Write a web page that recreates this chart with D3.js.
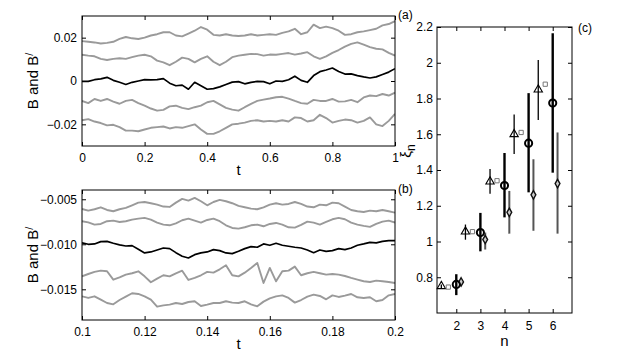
<!DOCTYPE html>
<html>
<head>
<meta charset="utf-8">
<script src="https://cdn.jsdelivr.net/npm/d3@7"></script>
<style>
body { margin: 0; background: #fff; }
svg { display: block; font-family: "Liberation Sans", Arial, sans-serif; }
</style>
</head>
<body>
<svg width="632" height="353"></svg>
<script>
//sample times of the two trace panels
var tA = [0,0.02,0.04,0.06,0.08,0.1,0.12,0.14,0.16,0.18,0.2,0.22,0.24,0.26,0.28,0.3,0.32,0.34,0.36,0.38,
    0.4,0.42,0.44,0.46,0.48,0.5,0.52,0.54,0.56,0.58,0.6,0.62,0.64,0.66,0.68,0.7,0.72,0.74,0.76,0.78,
    0.8,0.82,0.84,0.86,0.88,0.9,0.92,0.94,0.96,0.98,1];
var tB = [0.1,0.102,0.104,0.106,0.108,0.11,0.112,0.114,0.116,0.118,0.12,0.122,0.124,0.126,0.128,0.13,0.132,0.134,0.136,0.138,
    0.14,0.142,0.144,0.146,0.148,0.15,0.152,0.154,0.156,0.158,0.16,0.162,0.164,0.166,0.168,0.17,0.172,0.174,0.176,0.178,
    0.18,0.182,0.184,0.186,0.188,0.19,0.192,0.194,0.196,0.198,0.2];

//panel (a) traces, top to bottom
var aGray1 = [0.0184,0.0181,0.0178,0.0173,0.0176,0.0181,0.0194,0.0203,0.0197,0.0194,
    0.0200,0.0210,0.0216,0.0225,0.0225,0.0210,0.0206,0.0219,0.0232,0.0249,
    0.0237,0.0213,0.0210,0.0216,0.0210,0.0208,0.0210,0.0216,0.0210,0.0213,
    0.0216,0.0213,0.0222,0.0229,0.0241,0.0216,0.0225,0.0260,0.0244,0.0251,
    0.0244,0.0232,0.0213,0.0216,0.0225,0.0229,0.0235,0.0241,0.0257,0.0263,0.0276];
var aGray2 = [0.0121,0.0117,0.0114,0.0102,0.0097,0.0102,0.0105,0.0102,0.0110,0.0117,
    0.0121,0.0114,0.0094,0.0086,0.0073,0.0089,0.0108,0.0102,0.0086,0.0102,
    0.0114,0.0089,0.0073,0.0089,0.0110,0.0117,0.0121,0.0125,0.0124,0.0117,
    0.0122,0.0121,0.0125,0.0129,0.0122,0.0127,0.0133,0.0114,0.0102,0.0114,
    0.0130,0.0143,0.0159,0.0171,0.0178,0.0168,0.0156,0.0149,0.0146,0.0130,0.0117];
var aBlack = [-0.0002,-0.0002,0.0006,0.0010,0.0017,0.0003,-0.0006,-0.0016,-0.0006,0,
    0.0006,0.0005,0.0006,0.0011,-0.0010,-0.0022,-0.0019,-0.0038,-0.0006,-0.0022,
    -0.0038,-0.0035,-0.0027,-0.0016,-0.0005,-0.0003,-0.0013,-0.0006,-0.0002,-0.0003,
    -0.0013,0,-0.0002,0.0006,0.0022,0.0003,-0.0006,0.0025,0.0043,0.0051,
    0.0060,0.0044,0.0032,0.0033,0.0025,0.0019,0.0014,0.0019,0.0030,0.0041,0.0057];
var aGray4 = [-0.0092,-0.0102,-0.0083,-0.0092,-0.0083,-0.0095,-0.0105,-0.0092,-0.0087,-0.0102,
    -0.0114,-0.0127,-0.0137,-0.0133,-0.0117,-0.0114,-0.0124,-0.0130,-0.0121,-0.0114,
    -0.0098,-0.0092,-0.0108,-0.0124,-0.0132,-0.0137,-0.0121,-0.0106,-0.0092,-0.0086,
    -0.0081,-0.0075,-0.0073,-0.0081,-0.0092,-0.0102,-0.0105,-0.0087,-0.0092,-0.0092,
    -0.0083,-0.0095,-0.0094,-0.0087,-0.0098,-0.0076,-0.0067,-0.0070,-0.0060,-0.0067,-0.0054];
var aGray5 = [-0.0181,-0.0176,-0.0187,-0.0194,-0.0205,-0.0202,-0.0213,-0.0229,-0.0229,-0.0232,
    -0.0224,-0.0216,-0.0213,-0.0210,-0.0219,-0.0213,-0.0216,-0.0208,-0.0200,-0.0224,
    -0.0244,-0.0244,-0.0232,-0.0216,-0.0200,-0.0197,-0.0192,-0.0184,-0.0181,-0.0187,
    -0.0184,-0.0187,-0.0181,-0.0187,-0.0168,-0.0171,-0.0187,-0.0181,-0.0156,-0.0171,
    -0.0192,-0.0184,-0.0178,-0.0181,-0.0192,-0.0184,-0.0168,-0.0200,-0.0208,-0.0184,-0.0152];

//panel (b) traces, top to bottom
var bGray1 = [-0.00607,-0.00626,-0.00611,-0.00589,-0.00619,-0.00633,-0.00611,-0.00596,-0.00567,-0.00537,
    -0.00530,-0.00544,-0.00559,-0.00581,-0.00585,-0.00537,-0.00496,-0.00515,-0.00485,-0.00522,
    -0.00567,-0.00530,-0.00507,-0.00522,-0.00544,-0.00574,-0.00589,-0.00604,-0.00611,-0.00589,
    -0.00559,-0.00544,-0.00559,-0.00552,-0.00530,-0.00552,-0.00581,-0.00589,-0.00559,-0.00567,
    -0.00537,-0.00544,-0.00581,-0.00619,-0.00633,-0.00641,-0.00626,-0.00633,-0.00619,-0.00633,-0.00648];
var bGray2 = [-0.00744,-0.00756,-0.00781,-0.00774,-0.00744,-0.00737,-0.00752,-0.00744,-0.00726,-0.00715,
    -0.00707,-0.00726,-0.00759,-0.00781,-0.00789,-0.00767,-0.00733,-0.00715,-0.00737,-0.00759,
    -0.00730,-0.00715,-0.00744,-0.00789,-0.00819,-0.00826,-0.00811,-0.00789,-0.00781,-0.00800,
    -0.00774,-0.00763,-0.00781,-0.00811,-0.00815,-0.00785,-0.00748,-0.00759,-0.00781,-0.00752,
    -0.00722,-0.00707,-0.00722,-0.00759,-0.00781,-0.00796,-0.00807,-0.00774,-0.00748,-0.00737,-0.00759];
var bBlack = [-0.00985,-0.01000,-0.00996,-0.00970,-0.00967,-0.00989,-0.01007,-0.01019,-0.01015,-0.01056,
    -0.01096,-0.01085,-0.01063,-0.01041,-0.01048,-0.01093,-0.01133,-0.01152,-0.01115,-0.01096,
    -0.01085,-0.01059,-0.01070,-0.01096,-0.01104,-0.01078,-0.01048,-0.01026,-0.01033,-0.00996,
    -0.01011,-0.00989,-0.01011,-0.01022,-0.01033,-0.01041,-0.01063,-0.01093,-0.01063,-0.01078,
    -0.01070,-0.01048,-0.01059,-0.01041,-0.01011,-0.00996,-0.00978,-0.00985,-0.00967,-0.00959,-0.00959];
var bGray4 = [-0.01356,-0.01330,-0.01307,-0.01293,-0.01300,-0.01393,-0.01367,-0.01337,-0.01322,-0.01300,
    -0.01356,-0.01422,-0.01381,-0.01344,-0.01356,-0.01322,-0.01293,-0.01396,-0.01374,-0.01344,
    -0.01307,-0.01315,-0.01278,-0.01233,-0.01344,-0.01356,-0.01315,-0.01263,-0.01207,-0.01430,
    -0.01263,-0.01411,-0.01300,-0.01293,-0.01248,-0.01344,-0.01322,-0.01307,-0.01322,-0.01337,
    -0.01330,-0.01337,-0.01352,-0.01374,-0.01393,-0.01411,-0.01419,-0.01404,-0.01411,-0.01419,-0.01430];
var bGray5 = [-0.01578,-0.01596,-0.01578,-0.01615,-0.01652,-0.01667,-0.01619,-0.01581,-0.01544,-0.01552,
    -0.01578,-0.01615,-0.01693,-0.01678,-0.01670,-0.01652,-0.01663,-0.01641,-0.01633,-0.01685,
    -0.01670,-0.01652,-0.01652,-0.01633,-0.01648,-0.01652,-0.01633,-0.01667,-0.01689,-0.01637,
    -0.01600,-0.01578,-0.01567,-0.01596,-0.01648,-0.01619,-0.01581,-0.01559,-0.01574,-0.01611,
    -0.01567,-0.01585,-0.01570,-0.01552,-0.01589,-0.01596,-0.01589,-0.01633,-0.01619,-0.01567,-0.01552];

//panel (c): exponents with error bars
var triN = [1.38, 2.38, 3.4, 4.4, 5.4];
var triVal = [0.75, 1.055, 1.335, 1.60, 1.85];
var triLo = [0.74, 1.01, 1.267, 1.49, 1.68];
var triHi = [0.76, 1.095, 1.405, 1.71, 2.015];
var sqN = [1.67, 2.67, 3.69, 4.69, 5.69];
var sqVal = [0.745, 1.055, 1.34, 1.61, 1.88];
var circN = [2, 3, 4, 5, 6];
var circVal = [0.76, 1.05, 1.313, 1.55, 1.775];
var circLo = [0.70, 0.945, 1.135, 1.275, 1.385];
var circHi = [0.817, 1.16, 1.495, 1.83, 2.165];
var diaN = [2.2, 3.2, 4.2, 5.2, 6.2];
var diaVal = [0.774, 1.011, 1.163, 1.261, 1.324];
var diaLo = [0.758, 0.955, 1.044, 1.06, 1.044];
var diaHi = [0.79, 1.05, 1.283, 1.46, 1.61];

//ticks
var tickAx = [0, 0.2, 0.4, 0.6, 0.8, 1];
var tickAxLab = ["0", "0.2", "0.4", "0.6", "0.8", "1"];
var tickAy = [-0.02, 0, 0.02];
var tickAyLab = ["\u22120.02", "0", "0.02"];
var tickBx = [0.1, 0.12, 0.14, 0.16, 0.18, 0.2];
var tickBxLab = ["0.1", "0.12", "0.14", "0.16", "0.18", "0.2"];
var tickBy = [-0.015, -0.010, -0.005];
var tickByLab = ["\u22120.015", "\u22120.010", "\u22120.005"];
var tickCx = [2, 3, 4, 5, 6];
var tickCxLab = ["2", "3", "4", "5", "6"];
var tickCy = [0.8, 1, 1.2, 1.4, 1.6, 1.8, 2, 2.2];
var tickCyLab = ["0.8", "1", "1.2", "1.4", "1.6", "1.8", "2", "2.2"];

var svg = d3.select("svg");
var gray = "#9a9a9a";

//box with inward ticks on all four sides, MATLAB style
function frame(g, x, y, w, h, xt, xl, yt, yl, xPad, yPad) {
    var fx = function (d, i) { return xl[xt.indexOf(d)]; };
    var fy = function (d, i) { return yl[yt.indexOf(d)]; };
    g.append("g").attr("transform", "translate(0," + h + ")")
        .call(d3.axisBottom(x).tickValues(xt).tickFormat(fx).tickSizeInner(-4).tickSizeOuter(0).tickPadding(xPad));
    g.append("g")
        .call(d3.axisTop(x).tickValues(xt).tickFormat("").tickSizeInner(-4).tickSizeOuter(0));
    g.append("g")
        .call(d3.axisLeft(y).tickValues(yt).tickFormat(fy).tickSizeInner(-4).tickSizeOuter(0).tickPadding(yPad));
    g.append("g").attr("transform", "translate(" + w + ",0)")
        .call(d3.axisRight(y).tickValues(yt).tickFormat("").tickSizeInner(-4).tickSizeOuter(0));
    g.selectAll(".domain").remove();
    g.selectAll(".tick line").attr("stroke", "#000");
    g.selectAll(".tick text").style("font-size", "12px").attr("fill", "#000");
    g.append("rect").attr("width", w).attr("height", h)
        .attr("fill", "none").attr("stroke", "#000").attr("stroke-width", 1);
}

function tracePanel(id, left, top, right, bottom, t, xDom, yDom, series, xt, xl, yt, yl) {
    var w = right - left, h = bottom - top;
    var g = svg.append("g").attr("transform", "translate(" + left + "," + top + ")");
    var x = d3.scaleLinear().domain(xDom).range([0, w]);
    var y = d3.scaleLinear().domain(yDom).range([h, 0]);

    g.append("clipPath").attr("id", id).append("rect").attr("width", w).attr("height", h);

    var line = d3.line()
        .x(function (d, i) { return x(t[i]); })
        .y(function (d) { return y(d); });

    g.append("g").attr("clip-path", "url(#" + id + ")")
        .selectAll("path")
        .data(series)
        .enter()
        .append("path")
        .attr("d", function (d) { return line(d.v); })
        .attr("fill", "none")
        .attr("stroke", function (d) { return d.black ? "#000" : gray; })
        .attr("stroke-width", function (d) { return d.black ? 1.7 : 1.9; })
        .attr("stroke-linejoin", "round");

    frame(g, x, y, w, h, xt, xl, yt, yl, 7, 5);

    //axis labels
    g.append("text")
        .attr("x", w / 2).attr("y", h + 29)
        .style("text-anchor", "middle").style("font-size", "15px")
        .text("t");
    var yl2 = g.append("text")
        .attr("transform", "translate(-44," + (h / 2) + ") rotate(-90)")
        .style("text-anchor", "middle").style("font-size", "15px");
    yl2.append("tspan").text("B and B");
    yl2.append("tspan").attr("dy", "-0.45em").style("font-size", "11px").text("/");
}

tracePanel("clipA", 82, 16, 395, 146, tA, [0, 1], [-0.03, 0.03],
    [{ v: aGray1 }, { v: aGray2 }, { v: aGray4 }, { v: aGray5 }, { v: aBlack, black: true }],
    tickAx, tickAxLab, tickAy, tickAyLab);
tracePanel("clipB", 82, 190, 395, 320, tB, [0.1, 0.2], [-0.01841, -0.00397],
    [{ v: bGray1 }, { v: bGray2 }, { v: bGray4 }, { v: bGray5 }, { v: bBlack, black: true }],
    tickBx, tickBxLab, tickBy, tickByLab);

//panel (c)
var cl = 437, ct = 27, cw = 572 - 437, ch = 313 - 27;
var gc = svg.append("g").attr("transform", "translate(" + cl + "," + ct + ")");
var xc = d3.scaleLinear().domain([1.2, 6.8]).range([0, cw]);
var yc = d3.scaleLinear().domain([0.6, 2.2]).range([ch, 0]);

frame(gc, xc, yc, cw, ch, tickCx, tickCxLab, tickCy, tickCyLab, 8, 4);

function bars(ns, lo, hi, color, width) {
    gc.append("g").selectAll("line")
        .data(ns)
        .enter()
        .append("line")
        .attr("x1", function (d) { return xc(d); })
        .attr("x2", function (d) { return xc(d); })
        .attr("y1", function (d, i) { return yc(lo[i]); })
        .attr("y2", function (d, i) { return yc(hi[i]); })
        .attr("stroke", color)
        .attr("stroke-width", width);
}

bars(diaN, diaLo, diaHi, "#555", 2);
bars(triN, triLo, triHi, "#000", 1.3);
bars(circN, circLo, circHi, "#000", 2.4);

function marks(ns, vals, type, size, stroke, fill, sw) {
    gc.append("g").selectAll("path")
        .data(ns)
        .enter()
        .append("path")
        .attr("transform", function (d, i) { return "translate(" + xc(d) + "," + yc(vals[i]) + ")"; })
        .attr("d", d3.symbol().type(type).size(size))
        .attr("fill", fill)
        .attr("stroke", stroke)
        .attr("stroke-width", sw);
}

marks(triN, triVal, d3.symbolTriangle, 30, "#000", "none", 1.1);
marks(sqN, sqVal, d3.symbolSquare, 18, "#777", "none", 1);
marks(diaN, diaVal, d3.symbolDiamond, 20, "#111", "#ccc", 1.4);
marks(circN, circVal, d3.symbolCircle, 40, "#000", "none", 2);

gc.append("text")
    .attr("x", cw / 2).attr("y", ch + 33)
    .style("text-anchor", "middle").style("font-size", "15px")
    .text("n");
var xi = gc.append("text")
    .attr("transform", "translate(-26," + (ch / 2 - 19) + ") rotate(-90)")
    .style("text-anchor", "middle").style("font-size", "15px");
xi.append("tspan").text("\u03be");
xi.append("tspan").attr("dy", "0.35em").style("font-size", "12px").text("n");

//panel tags
svg.append("text").attr("x", 398).attr("y", 19).style("font-size", "12px").text("(a)");
svg.append("text").attr("x", 398).attr("y", 193).style("font-size", "12px").text("(b)");
svg.append("text").attr("x", 578).attr("y", 32).style("font-size", "12px").text("(c)");
</script>
</body>
</html>
